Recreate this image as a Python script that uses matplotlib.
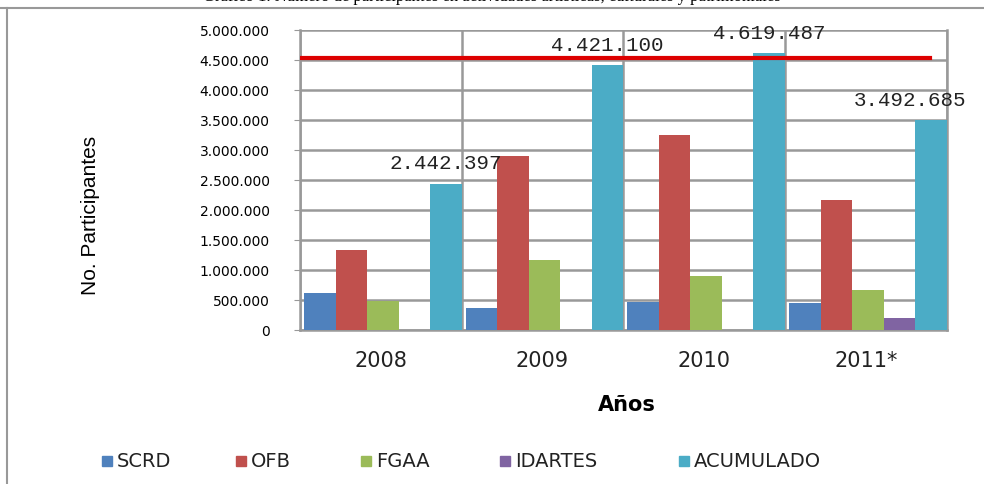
import numpy as np
import matplotlib
matplotlib.use('Agg')
import matplotlib.pyplot as plt
from matplotlib.lines import Line2D
from matplotlib.ticker import FuncFormatter

years = ['2008', '2009', '2010', '2011*']
scrd = [620000, 360000, 470000, 450000]
ofb = [1340000, 2900000, 3250000, 2170000]
fgaa = [480000, 1160000, 900000, 670000]
idartes = [0, 0, 0, 200000]
acumulado = [2442397, 4421100, 4619487, 3492685]
acum_labels = ['2.442.397', '4.421.100', '4.619.487', '3.492.685']
meta = 4530000

series = [('SCRD', scrd, '#4F81BD'),
          ('OFB', ofb, '#C0504D'),
          ('FGAA', fgaa, '#9BBB59'),
          ('IDARTES', idartes, '#8064A2'),
          ('ACUMULADO', acumulado, '#4BACC6')]


def miles(v, pos):
    return '{:,.0f}'.format(v).replace(',', '.')


def main():
    fig = plt.figure(figsize=(9.84, 4.84), dpi=100)
    ax = fig.add_axes([0.305, 0.318, 0.657, 0.62])

    x = np.arange(len(years))
    w = 0.195
    start = -0.5 + 0.025
    for k, (name, vals, col) in enumerate(series):
        ax.bar(x + start + w * (k + 0.5), vals, w, color=col, zorder=3)

    # labels over the accumulated bars (last one pulled in a bit)
    shift = [0, 0, 0, -0.13]
    for i, lab in enumerate(acum_labels):
        ax.text(x[i] + start + w * 4.5 + shift[i], acumulado[i] + 170000, lab,
                ha='center', va='bottom', fontsize=15,
                family='Liberation Mono', color='#222222', zorder=5)

    ax.axhline(meta, xmin=0, xmax=0.974, color='#DD0000', lw=3, zorder=4)

    ax.set_xlim(-0.5, len(years) - 0.5)
    ax.set_ylim(0, 5000000)
    ax.set_yticks(np.arange(0, 5000001, 500000))
    ax.yaxis.set_major_formatter(FuncFormatter(miles))
    ax.set_xticks(x)
    ax.set_xticklabels(years, fontsize=15, color='#222222')
    ax.set_xticks(np.arange(-0.5, len(years)), minor=True)
    ax.tick_params(axis='x', which='both', length=0, pad=15)
    ax.tick_params(axis='y', length=4, color='#999999', labelsize=10, pad=18)
    ax.grid(axis='y', color='#999999', lw=1.8, zorder=0)
    ax.grid(axis='x', which='minor', color='#999999', lw=1.8, zorder=0)
    for s in ['left', 'bottom', 'right']:
        ax.spines[s].set_color('#999999')
        ax.spines[s].set_linewidth(1.8)
    ax.spines['top'].set_visible(False)

    fig.text(0.092, 0.555, 'No. Participantes', rotation=90, ha='center',
             va='center', fontsize=15,
             family=['Liberation Sans Narrow', 'Liberation Sans'])
    fig.text(0.637, 0.163, 'Años', ha='center', va='center', fontsize=15,
             fontweight='bold')

    # legend laid out like the original, entries spread across the width
    leg_x = [107, 241, 366, 505, 684]
    for (name, _, col), px in zip(series, leg_x):
        fig.add_artist(Line2D([px / 984], [0.047], marker='s', ls='',
                              color=col, markersize=7))
        fig.text((px + 10) / 984, 0.047, name, ha='left', va='center',
                 fontsize=14, color='#222222')

    # clipped caption and frame of the original document
    fig.text(0.5, 0.997, 'Gráfico 1. Número de participantes en actividades '
             'artísticas, culturales y patrimoniales', ha='center',
             va='baseline', fontsize=12, family='Liberation Serif')
    fig.add_artist(Line2D([0, 1], [0.983, 0.983], color='#999999', lw=1.5))
    fig.add_artist(Line2D([0.007, 0.007], [0, 0.983], color='#999999',
                          lw=1.5))

    fig.savefig('out.png', dpi=100)
    plt.close(fig)


if __name__ == "__main__":
    main()
